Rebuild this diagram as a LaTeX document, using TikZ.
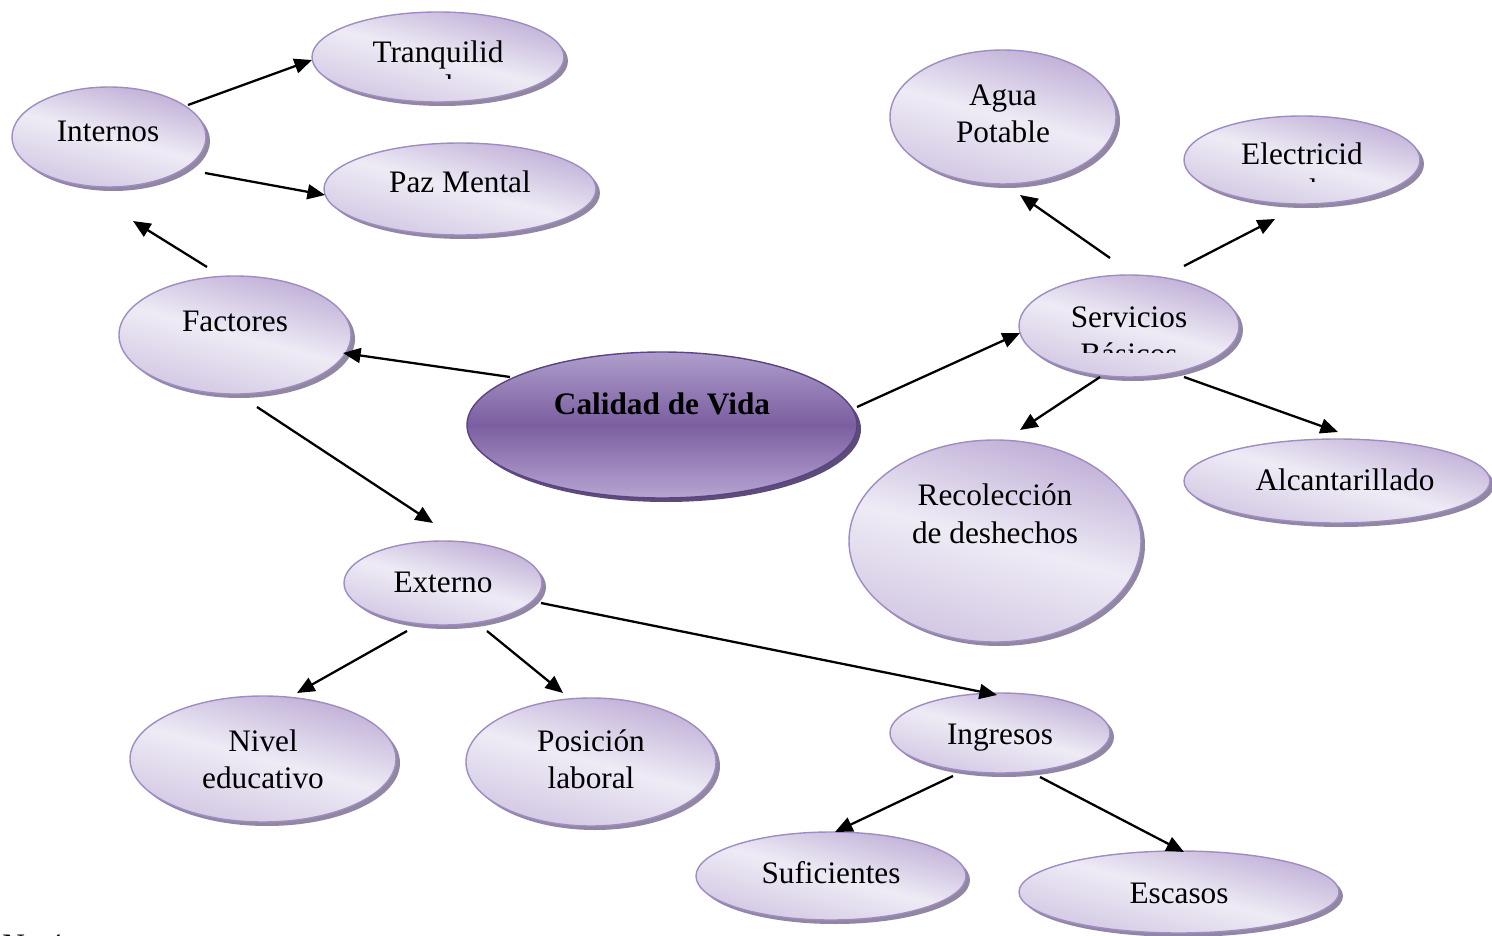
\documentclass[tikz,border=0pt]{standalone}
\usepackage{fontspec}
\setmainfont{Liberation Serif}
\usetikzlibrary{shapes.geometric,shadows,arrows.meta}
\definecolor{lavTop}{HTML}{BFAED6}
\definecolor{lavMid}{HTML}{EEEBF5}
\definecolor{lavBot}{HTML}{D2C7E3}
\definecolor{lavLine}{HTML}{A08CC4}
\definecolor{shade}{HTML}{7E7290}
\definecolor{cTop}{HTML}{AE9ECC}
\definecolor{cMid}{HTML}{7B5EA0}
\definecolor{cBot}{HTML}{B6A5D1}
\definecolor{cLine}{HTML}{5D4287}
\definecolor{cShade}{HTML}{4A3A66}
\tikzset{
  bub/.style={ellipse, inner sep=0pt, outer sep=0pt, draw=lavLine, line width=0.8pt,
    top color=lavTop, bottom color=lavBot, middle color=lavMid, shading angle=-15,
    drop shadow={shadow xshift=0.08cm, shadow yshift=-0.08cm, fill=shade, opacity=0.85}},
  core/.style={ellipse, inner sep=0pt, outer sep=0pt, draw=cLine, line width=0.8pt,
    top color=cTop, bottom color=cBot, middle color=cMid,
    drop shadow={shadow xshift=0.08cm, shadow yshift=-0.08cm, fill=cShade, opacity=0.9}},
  sz/.style 2 args={minimum width=#1*0.02cm, minimum height=#2*0.02cm},
  txt/.style={anchor=base, inner sep=0pt,
    font=\fontsize{17.8}{21}\selectfont},
  arr/.style={line width=1.3pt, -{Triangle[length=10pt,width=8.5pt]}}
}
\begin{document}
\begin{tikzpicture}[x=0.02cm, y=-0.02cm]
\useasboundingbox (0,0) rectangle (1492,936);
\fill[white] (0,0) rectangle (1492,936);

% ellipses
\node[bub, sz={252}{90}]  (tranq) at (438,57) {};
\node[bub, sz={194}{100}] (intern) at (109,137) {};
\node[bub, sz={272}{92}]  (paz) at (460,189) {};
\node[bub, sz={232}{118}] (fact) at (235,335) {};
\node[bub, sz={226}{134}] (agua) at (1003,117) {};
\node[bub, sz={236}{88}]  (elec) at (1302,160) {};
\node[bub, sz={220}{102}] (serv) at (1129,326) {};
\node[core, sz={390}{146}] (cal) at (662,425) {};
\node[bub, sz={292}{202}] (rec) at (995,541) {};
\node[bub, sz={306}{84}]  (alc) at (1337,481) {};
\node[bub, sz={198}{84}]  (ext) at (443,583) {};
\node[bub, sz={266}{126}] (niv) at (263,759) {};
\node[bub, sz={250}{128}] (pos) at (591,762) {};
\node[bub, sz={220}{80}]  (ing) at (1000,733) {};
\node[bub, sz={270}{88}]  (suf) at (831,876) {};
\node[bub, sz={320}{82}]  (esc) at (1179,892) {};

% texts
\node[txt] (tranq-t) at (438,63) {Tranquilid};
\begin{scope}
  \clip (300,66) rectangle (580,79);
  \node[txt] (tranq-t2) at (438,97) {ad};
\end{scope}
\node[txt] (intern-t) at (108,142) {Internos};
\node[txt] (paz-t) at (460,193) {Paz Mental};
\node[txt] (fact-t) at (235,331) {Factores};
\node[txt] (agua-t) at (1003,106) {Agua};
\node[txt] (agua-t2) at (1003,143) {Potable};
\node[txt] (elec-t) at (1302,165) {Electricid};
\begin{scope}
  \clip (1180,170) rectangle (1425,182);
  \node[txt] (elec-t2) at (1302,200) {ad};
\end{scope}
\node[txt] (serv-t) at (1129,327) {Servicios};
\begin{scope}
  \clip (1020,335) rectangle (1240,352);
  \node[txt] (serv-t2) at (1129,364) {Básicos};
\end{scope}
\node[txt, font=\fontsize{17.8}{21}\selectfont\bfseries] (cal-t) at (662,414) {Calidad de Vida};
\node[txt] (rec-t) at (995,505) {Recolección};
\node[txt] (rec-t2) at (995,543) {de deshechos};
\node[txt] (alc-t) at (1345,490) {Alcantarillado};
\node[txt] (ext-t) at (443,592) {Externo};
\node[txt] (niv-t) at (263,751) {Nivel};
\node[txt] (niv-t2) at (263,788) {educativo};
\node[txt] (pos-t) at (591,751) {Posición};
\node[txt] (pos-t2) at (591,788) {laboral};
\node[txt] (ing-t) at (1000,744) {Ingresos};
\node[txt] (suf-t) at (831,883) {Suficientes};
\node[txt] (esc-t) at (1179,903) {Escasos};
\node[txt, anchor=base west] (num-t) at (2,955) {N\hspace{0.45cm}4};

% connector end points
\coordinate (a1s) at (188,105);  \coordinate (a1e) at (312,60);
\coordinate (a2s) at (205,173);  \coordinate (a2e) at (325,195);
\coordinate (a3s) at (207,267);  \coordinate (a3e) at (133,221);
\coordinate (a4s) at (510,377);  \coordinate (a4e) at (343,353);
\coordinate (a5s) at (257,407);  \coordinate (a5e) at (433,523);
\coordinate (a6s) at (857,407);  \coordinate (a6e) at (1020,333);
\coordinate (a7s) at (1110,258); \coordinate (a7e) at (1020,195);
\coordinate (a8s) at (1184,266); \coordinate (a8e) at (1275,219);
\coordinate (a9s) at (1100,377); \coordinate (a9e) at (1020,430);
\coordinate (a10s) at (1184,377); \coordinate (a10e) at (1338,432);
\coordinate (a11s) at (407,631); \coordinate (a11e) at (297,693);
\coordinate (a12s) at (487,631); \coordinate (a12e) at (563,693);
\coordinate (a13s) at (541,603); \coordinate (a13e) at (997,695);
\coordinate (a14s) at (953,776); \coordinate (a14e) at (835,832);
\coordinate (a15s) at (1040,777); \coordinate (a15e) at (1184,852);

\foreach \i in {1,...,15}{
  \draw[arr] (a\i s) -- (a\i e);
}
\end{tikzpicture}
\end{document}
